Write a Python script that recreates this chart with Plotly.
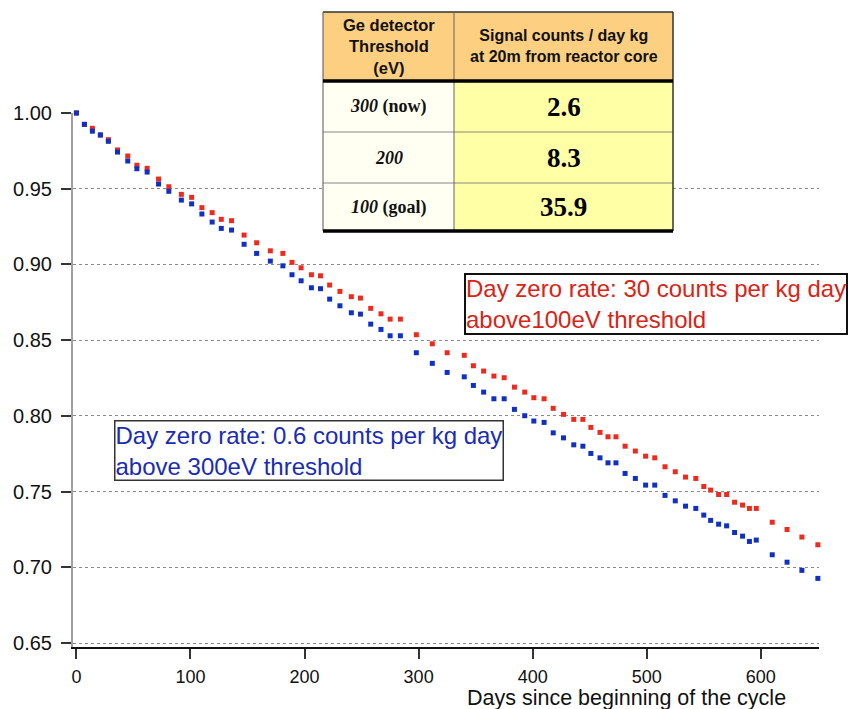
import plotly.graph_objects as go

days = [0, 7, 14, 21, 28, 36, 45, 53, 62, 72, 81, 92, 101, 110, 119, 127, 136, 147, 158, 170,
        181, 189, 197, 206, 214, 222, 231, 241, 249, 258, 267, 275, 284, 298, 312, 325, 340, 348, 357, 366,
        375, 384, 393, 401, 410, 418, 427, 436, 444, 451, 459, 466, 473, 481, 490, 499, 507, 516, 525, 534,
        543, 550, 556, 563, 570, 577, 584, 590, 596, 610, 623, 636, 650]

rate_100eV = [1.000, 0.9925, 0.9899, 0.9855, 0.9824, 0.9756, 0.9716, 0.9655, 0.9635, 0.9564,
              0.9513, 0.9463, 0.9443, 0.9375, 0.9342, 0.9298, 0.9289, 0.9194, 0.9143, 0.909,
              0.9073, 0.9014, 0.8978, 0.8932, 0.8925, 0.8864, 0.8822, 0.8787, 0.8778, 0.871,
              0.8674, 0.8639, 0.8639, 0.8536, 0.8476, 0.8417, 0.84, 0.8331, 0.8296, 0.8263,
              0.8252, 0.819, 0.8157, 0.812, 0.8113, 0.805, 0.801, 0.7977, 0.7977, 0.7924,
              0.7891, 0.7862, 0.7862, 0.78, 0.7768, 0.7734, 0.7723, 0.7664, 0.7631, 0.7596,
              0.7587, 0.7534, 0.751, 0.7481, 0.7481, 0.743, 0.7411, 0.7389, 0.7389, 0.7298,
              0.725, 0.72, 0.7149]

rate_300eV = [1.000, 0.9925, 0.988, 0.9855, 0.9813, 0.9742, 0.9683, 0.9632, 0.961, 0.9531,
              0.9483, 0.9425, 0.940, 0.9333, 0.928, 0.9238, 0.9227, 0.9133, 0.9073, 0.9022,
              0.8991, 0.8932, 0.8892, 0.8846, 0.884, 0.8771, 0.8727, 0.8681, 0.8672, 0.8606,
              0.8571, 0.8529, 0.8529, 0.8417, 0.8347, 0.8287, 0.8258, 0.8201, 0.8157, 0.8113,
              0.8113, 0.8043, 0.8001, 0.7966, 0.7957, 0.7888, 0.7855, 0.7809, 0.78, 0.7752,
              0.7723, 0.769, 0.769, 0.762, 0.7587, 0.7543, 0.7543, 0.7475, 0.7439, 0.7404,
              0.7389, 0.7345, 0.731, 0.7285, 0.7274, 0.723, 0.7206, 0.7171, 0.718, 0.7083,
              0.7034, 0.698, 0.6927]

x_ticks = [0, 100, 200, 300, 400, 500, 600]
x_title = "Days since beginning of the cycle"

table_head = ["Ge detector<br>Threshold<br>(eV)", "Signal counts / day kg<br>at 20m from reactor core"]
table_thresholds = ["<b><i>300</i> (now)</b>", "<b><i>200</i></b>", "<b><i>100</i> (goal)</b>"]
table_signal = ["2.6", "8.3", "35.9"]

label_red = "Day zero rate: 30 counts per kg day<br>above100eV threshold"
label_blue = "Day zero rate: 0.6 counts per kg day<br>above 300eV threshold"

W, H = 848, 709
L, R, T, B = 73, 819, 113, 647


def px(x):
    return (x - L) / (R - L)


def py(y):
    return (B - y) / (B - T)


RED = "#ee2a1e"
BLUE = "#1030c4"

fig = go.Figure()
fig.add_trace(go.Scatter(x=days, y=rate_100eV, mode="markers",
                         marker=dict(symbol="square", size=5, color=RED),
                         cliponaxis=False, showlegend=False))
fig.add_trace(go.Scatter(x=days, y=rate_300eV, mode="markers",
                         marker=dict(symbol="square", size=5, color=BLUE),
                         cliponaxis=False, showlegend=False))

shapes = []
annotations = []

# table geometry (pixels)
tx0, tx1, tmid = 323, 673, 454
ty0, thead, tr1, tr2, ty1 = 12, 81, 132, 183, 231


def rect(x0, y0, x1, y1, fill):
    shapes.append(dict(type="rect", xref="paper", yref="paper",
                       x0=px(x0), x1=px(x1), y0=py(y1), y1=py(y0),
                       fillcolor=fill, line=dict(width=0), layer="above"))


def hline(x0, x1, y, color, width):
    shapes.append(dict(type="line", xref="paper", yref="paper",
                       x0=px(x0), x1=px(x1), y0=py(y), y1=py(y),
                       line=dict(color=color, width=width), layer="above"))


def vline(x, y0, y1, color, width):
    shapes.append(dict(type="line", xref="paper", yref="paper",
                       x0=px(x), x1=px(x), y0=py(y0), y1=py(y1),
                       line=dict(color=color, width=width), layer="above"))


rect(tx0, ty0, tx1, thead, "#fdcf80")
rect(tx0, thead, tmid, ty1, "#fffff2")
rect(tmid, thead, tx1, ty1, "#ffffa6")
hline(tx0, tx1, ty0, "#333333", 1.5)
hline(tx0, tx1, tr1, "#888888", 1)
hline(tx0, tx1, tr2, "#888888", 1)
vline(tx0, ty0, ty1, "#555555", 1)
vline(tx1, ty0, ty1, "#333333", 1.5)
vline(tmid, ty0, ty1, "#666666", 1)
hline(tx0, tx1, thead, "#000000", 3.5)
hline(tx0, tx1, ty1, "#000000", 3.5)

head_font = dict(family="Liberation Sans, Arial", size=16.5, color="#111111")
annotations.append(dict(xref="paper", yref="paper", x=px((tx0 + tmid) / 2), y=py((ty0 + thead) / 2),
                        text="<b>" + table_head[0] + "</b>", showarrow=False, font=head_font,
                        xanchor="center", yanchor="middle", align="center"))
annotations.append(dict(xref="paper", yref="paper", x=px((tmid + tx1) / 2), y=py((ty0 + thead) / 2),
                        text="<b>" + table_head[1] + "</b>", showarrow=False,
                        font=dict(family="Liberation Sans, Arial", size=16, color="#111111"),
                        xanchor="center", yanchor="middle", align="center"))
row_centers = [(thead + tr1) / 2, (tr1 + tr2) / 2, (tr2 + ty1) / 2]
for i in range(3):
    annotations.append(dict(xref="paper", yref="paper", x=px((tx0 + tmid) / 2), y=py(row_centers[i]),
                            text=table_thresholds[i], showarrow=False,
                            font=dict(family="Liberation Serif, Times New Roman", size=18, color="#111111"),
                            xanchor="center", yanchor="middle"))
    annotations.append(dict(xref="paper", yref="paper", x=px((tmid + tx1) / 2), y=py(row_centers[i]),
                            text="<b>" + table_signal[i] + "</b>", showarrow=False,
                            font=dict(family="Liberation Serif, Times New Roman", size=27, color="#000000"),
                            xanchor="center", yanchor="middle"))

# labelled boxes
annotations.append(dict(xref="paper", yref="paper", x=px(464), y=py(273), xanchor="left", yanchor="top",
                        text=label_red, showarrow=False, align="left",
                        font=dict(family="Liberation Sans, Arial", size=24, color="#d92416"),
                        bordercolor="#111111", borderwidth=2, borderpad=0, bgcolor="white"))
annotations.append(dict(xref="paper", yref="paper", x=px(114), y=py(420), xanchor="left", yanchor="top",
                        text=label_blue, showarrow=False, align="left",
                        font=dict(family="Liberation Sans, Arial", size=24, color="#1a2cb4"),
                        bordercolor="#333333", borderwidth=1.5, borderpad=0, bgcolor="white"))

# x axis title
annotations.append(dict(xref="paper", yref="paper", x=px(788), y=py(684), xanchor="right", yanchor="top",
                        text=x_title, showarrow=False,
                        font=dict(family="Liberation Sans, Arial", size=21.5, color="#111111")))

fig.update_layout(
    width=W, height=H,
    margin=dict(l=L, r=W - R, t=T, b=H - B, autoexpand=False),
    paper_bgcolor="white", plot_bgcolor="white",
    shapes=shapes, annotations=annotations,
    xaxis=dict(range=[-3, 651], tickvals=x_ticks, ticks="outside", ticklen=10, tickwidth=2,
               tickcolor="#333333", showgrid=False, zeroline=False, showline=True,
               linecolor="#111111", linewidth=2, ticklabelstandoff=2,
               tickfont=dict(family="Liberation Sans, Arial", size=18, color="#111111")),
    yaxis=dict(range=[0.6474, 1.0], tick0=0.65, dtick=0.05, tickformat=".2f", ticks="outside",
               ticklen=10, tickwidth=2, tickcolor="#333333", showgrid=True, gridcolor="#8a8a8a",
               griddash="dot", gridwidth=1, zeroline=False, showline=True, linecolor="#a0a0a0",
               linewidth=2, ticklabelstandoff=5,
               tickfont=dict(family="Liberation Sans, Arial", size=20, color="#111111")),
)

fig.write_html("out.html")
